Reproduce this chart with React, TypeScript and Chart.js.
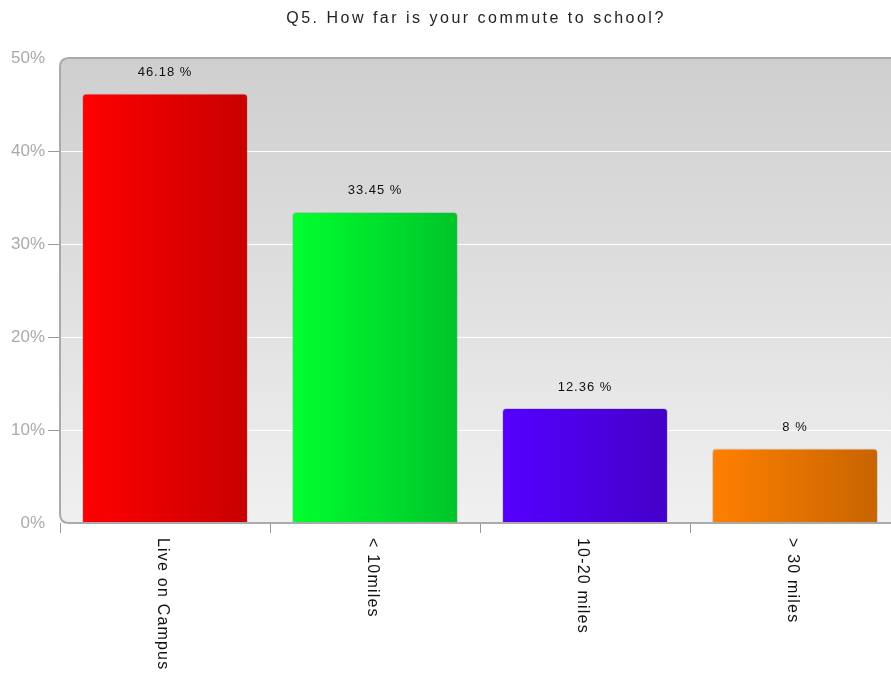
import React, { useEffect, useRef } from "react";
import { Chart, registerables } from "chart.js";
Chart.register(...registerables);

const chartTitle = "Q5. How far is your commute to school?";
const categories = ["Live on Campus", "< 10miles", "10-20 miles", "> 30 miles"];
const values = [46.18, 33.45, 12.36, 8];
const valueLabels = ["46.18 %", "33.45 %", "12.36 %", "8 %"];
const yMin = 0;
const yMax = 50;
const yStep = 10;
const colorsLeft = ["#ff0000", "#00ff2e", "#5500ff", "#ff8000"];
const colorsRight = ["#c80000", "#00c42a", "#4400c8", "#c86400"];

function roundPath(ctx: CanvasRenderingContext2D, x: number, y: number, w: number, h: number, r: number) {
  ctx.beginPath();
  ctx.moveTo(x + r, y);
  ctx.lineTo(x + w, y);
  ctx.lineTo(x + w, y + h);
  ctx.lineTo(x + r, y + h);
  ctx.quadraticCurveTo(x, y + h, x, y + h - r);
  ctx.lineTo(x, y + r);
  ctx.quadraticCurveTo(x, y, x + r, y);
  ctx.closePath();
}

const decorPlugin = {
  id: "decor",
  beforeDraw(chart: any) {
    const { ctx, chartArea } = chart;
    const { left, top, bottom } = chartArea;
    const w = chart.width - left + 10;
    ctx.save();
    const g = ctx.createLinearGradient(0, top, 0, bottom);
    g.addColorStop(0, "#cfcfcf");
    g.addColorStop(1, "#f0f0f0");
    roundPath(ctx, left, top, w, bottom - top, 9);
    ctx.fillStyle = g;
    ctx.fill();
    ctx.restore();

    ctx.save();
    ctx.font = "16px Arial, 'Liberation Sans', sans-serif";
    (ctx as any).letterSpacing = "2.5px";
    ctx.fillStyle = "#222";
    ctx.textAlign = "center";
    ctx.textBaseline = "alphabetic";
    ctx.fillText(chartTitle, 476, 23);
    ctx.restore();
  },
  beforeDatasetsDraw(chart: any) {
    const { ctx } = chart;
    const meta = chart.getDatasetMeta(0);
    meta.data.forEach((bar: any, i: number) => {
      const half = bar.width / 2;
      if (!isFinite(bar.x) || !isFinite(half)) return;
      const g = ctx.createLinearGradient(bar.x - half, 0, bar.x + half, 0);
      g.addColorStop(0, colorsLeft[i]);
      g.addColorStop(1, colorsRight[i]);
      bar.options.backgroundColor = g;
    });
  },
  afterDatasetsDraw(chart: any) {
    const { ctx, chartArea } = chart;
    const { left, top, bottom } = chartArea;
    const w = chart.width - left + 10;
    ctx.save();
    roundPath(ctx, left, top, w, bottom - top, 9);
    ctx.strokeStyle = "#aaaaaa";
    ctx.lineWidth = 2;
    ctx.stroke();
    ctx.restore();

    const meta = chart.getDatasetMeta(0);
    ctx.save();
    ctx.font = "13px Arial, 'Liberation Sans', sans-serif";
    (ctx as any).letterSpacing = "1px";
    ctx.fillStyle = "#111";
    ctx.textAlign = "center";
    ctx.textBaseline = "middle";
    meta.data.forEach((bar: any, i: number) => {
      ctx.fillText(valueLabels[i], bar.x, bar.y - 21);
    });
    ctx.restore();

    const xs = chart.scales.x;
    ctx.save();
    ctx.font = "16px Arial, 'Liberation Sans', sans-serif";
    (ctx as any).letterSpacing = "1.2px";
    ctx.fillStyle = "#111";
    ctx.textAlign = "left";
    ctx.textBaseline = "middle";
    categories.forEach((c, i) => {
      const x = xs.getPixelForValue(i) - 3;
      ctx.save();
      ctx.translate(x, bottom + 15);
      ctx.rotate(Math.PI / 2);
      ctx.fillText(c, 0, 0);
      ctx.restore();
    });
    ctx.restore();
  },
};

export default function App() {
  const ref = useRef<HTMLCanvasElement>(null);
  useEffect(() => {
    document.body.style.overflow = "hidden";
    const chart = new Chart(ref.current!, {
      type: "bar",
      data: {
        labels: categories,
        datasets: [
          {
            data: values,
            backgroundColor: (c: any) => colorsLeft[c.dataIndex ?? 0],
            borderColor: "rgba(130,130,130,0.3)",
            borderWidth: 1,
            borderSkipped: "bottom",
            borderRadius: { topLeft: 4, topRight: 4, bottomLeft: 0, bottomRight: 0 },
            categoryPercentage: 1,
            barPercentage: 0.79,
          },
        ],
      },
      options: {
        animation: false,
        responsive: false,
        layout: { padding: { top: 58, right: 50, left: 0, bottom: 0 } },
        plugins: { legend: { display: false }, title: { display: false }, tooltip: { enabled: false } },
        scales: {
          x: {
            grid: { display: true, offset: true, drawOnChartArea: false, tickLength: 10, tickColor: "#999", color: "#999" },
            border: { display: false },
            ticks: { display: false },
            afterFit: (s: any) => { s.height = 152; },
          },
          y: {
            min: yMin,
            max: yMax,
            ticks: {
              stepSize: yStep,
              padding: 3,
              color: "#aaaaaa",
              font: { size: 17, family: "Arial, 'Liberation Sans', sans-serif" },
              callback: (v: any) => v + "%",
            },
            grid: {
              color: (c: any) => (c.tick && (c.tick.value === yMin || c.tick.value === yMax) ? "rgba(0,0,0,0)" : "#ffffff"),
              tickColor: (c: any) => (c.tick && (c.tick.value === yMin || c.tick.value === yMax) ? "rgba(0,0,0,0)" : "#999999"),
              tickLength: 12,
              lineWidth: 1,
            },
            border: { display: false },
            afterFit: (s: any) => { s.width = 60; },
          },
        },
      },
      plugins: [decorPlugin],
    });
    return () => chart.destroy();
  }, []);
  return (
    <div style={{ position: "fixed", left: 0, top: 0, width: 950, height: 675, background: "#fff" }}>
      <canvas ref={ref} width={950} height={675} style={{ width: 950, height: 675, display: "block" }} />
    </div>
  );
}
